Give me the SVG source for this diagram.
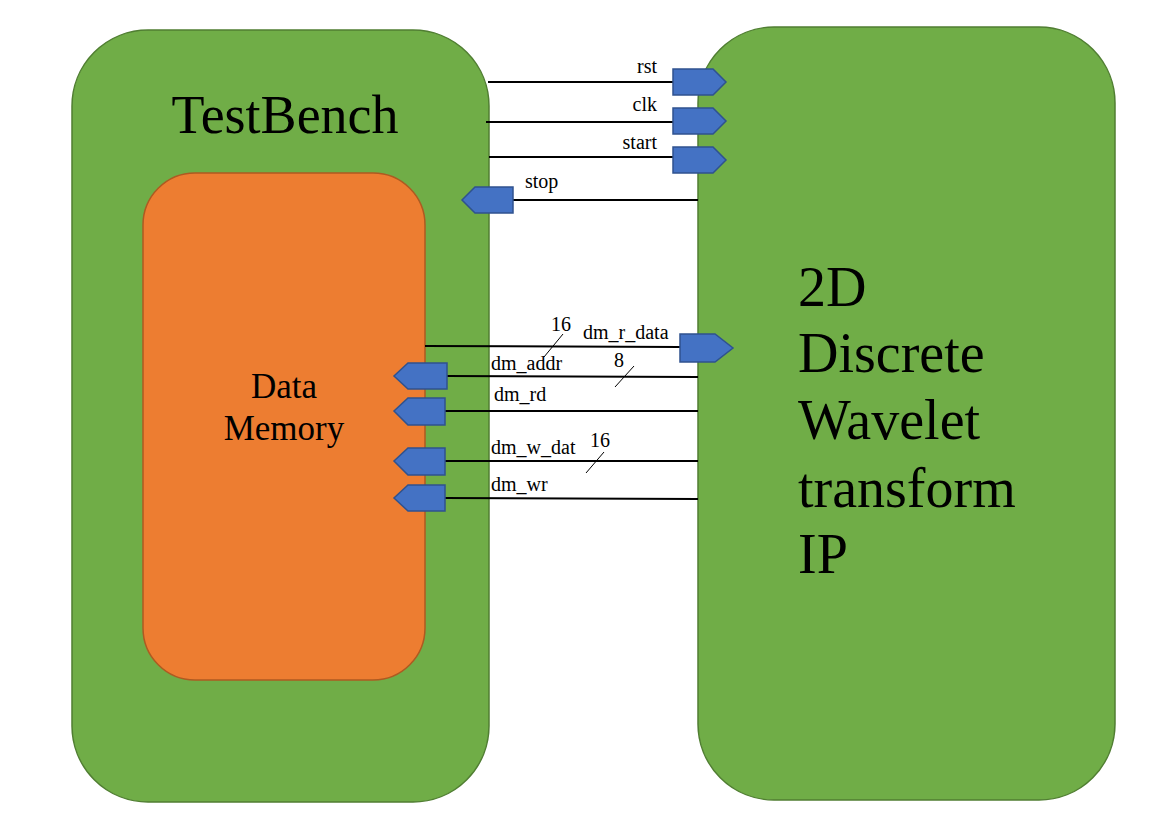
<svg xmlns="http://www.w3.org/2000/svg" width="1161" height="818" viewBox="0 0 1161 818">
<style>
.box{fill:#70AD47;stroke:#507E32;stroke-width:1.5}
.mem{fill:#ED7D31;stroke:#AE5A21;stroke-width:1.5}
.port{fill:#4472C4;stroke:#2F528F;stroke-width:1.5}
.w{stroke:#000;stroke-width:2;fill:none}
.s{stroke:#000;stroke-width:1;fill:none}
.big{font-family:"Liberation Serif","Times New Roman",serif;font-size:56px;fill:#000}
.tb{font-family:"Liberation Serif","Times New Roman",serif;font-size:54px;fill:#000}
.mid{font-family:"Liberation Serif","Times New Roman",serif;font-size:35px;fill:#000}
.lbl{font-family:"Liberation Serif","Times New Roman",serif;font-size:20px;fill:#000}
</style>
<rect width="1161" height="818" fill="#fff"/>
<g id="testbench">
<rect class="box" x="72" y="30" width="417" height="772" rx="76" ry="76"/>
<text class="tb" x="285" y="133" text-anchor="middle">TestBench</text>
</g>
<g id="data-memory">
<rect class="mem" x="143" y="173" width="282" height="507" rx="52" ry="52"/>
<text class="mid" x="284" y="398" text-anchor="middle">Data</text>
<text class="mid" x="284" y="440" text-anchor="middle">Memory</text>
</g>
<g id="dwt-ip">
<rect class="box" x="698" y="27" width="417" height="773" rx="76" ry="76"/>
<text class="big" x="798" y="306">2D</text>
<text class="big" x="798" y="372">Discrete</text>
<text class="big" x="798" y="439">Wavelet</text>
<text class="big" x="798" y="507">transform</text>
<text class="big" x="798" y="573">IP</text>
</g>
<g id="connectors">
<line class="w" x1="488" y1="82" x2="673" y2="82"/>
<line class="w" x1="486" y1="122" x2="673" y2="122"/>
<line class="w" x1="489" y1="157" x2="673" y2="157"/>
<line class="w" x1="513" y1="200" x2="698" y2="200"/>
<line class="w" x1="425" y1="346" x2="680" y2="347"/>
<line class="w" x1="447" y1="376" x2="698" y2="377"/>
<line class="w" x1="445" y1="411" x2="698" y2="411"/>
<line class="w" x1="445" y1="461" x2="698" y2="461"/>
<line class="w" x1="445" y1="498" x2="698" y2="499"/>
<line class="s" x1="544" y1="357" x2="563" y2="334"/>
<line class="s" x1="615" y1="387" x2="634" y2="366"/>
<line class="s" x1="586" y1="473" x2="604" y2="452"/>
</g>
<g id="port-rst">
<polygon class="port" points="673,69 713,69 726,82 713,95 673,95"/>
<text class="lbl" x="657" y="73" text-anchor="end">rst</text>
</g>
<g id="port-clk">
<polygon class="port" points="673,108 713,108 726,121 713,134 673,134"/>
<text class="lbl" x="657" y="111" text-anchor="end">clk</text>
</g>
<g id="port-start">
<polygon class="port" points="673,147 713,147 726,160 713,173 673,173"/>
<text class="lbl" x="657" y="149" text-anchor="end">start</text>
</g>
<g id="port-stop">
<polygon class="port" points="513,187 475,187 462,200 475,213 513,213"/>
<text class="lbl" x="525" y="188">stop</text>
</g>
<g id="port-dm_r_data">
<polygon class="port" points="680,334 715,334 733,348 715,362 680,362"/>
<text class="lbl" x="583" y="339">dm_r_data</text>
<text class="lbl" x="551" y="331">16</text>
</g>
<g id="port-dm_addr">
<polygon class="port" points="447,363 408,363 394,376 408,389 447,389"/>
<text class="lbl" x="491" y="370">dm_addr</text>
<text class="lbl" x="614" y="367">8</text>
</g>
<g id="port-dm_rd">
<polygon class="port" points="445,398 408,398 394,411 408,425 445,425"/>
<text class="lbl" x="494" y="401">dm_rd</text>
</g>
<g id="port-dm_w_dat">
<polygon class="port" points="445,448 408,448 394,461 408,475 445,475"/>
<text class="lbl" x="491" y="454">dm_w_dat</text>
<text class="lbl" x="590" y="447">16</text>
</g>
<g id="port-dm_wr">
<polygon class="port" points="445,485 408,485 394,498 408,511 445,511"/>
<text class="lbl" x="491" y="491">dm_wr</text>
</g>
</svg>
